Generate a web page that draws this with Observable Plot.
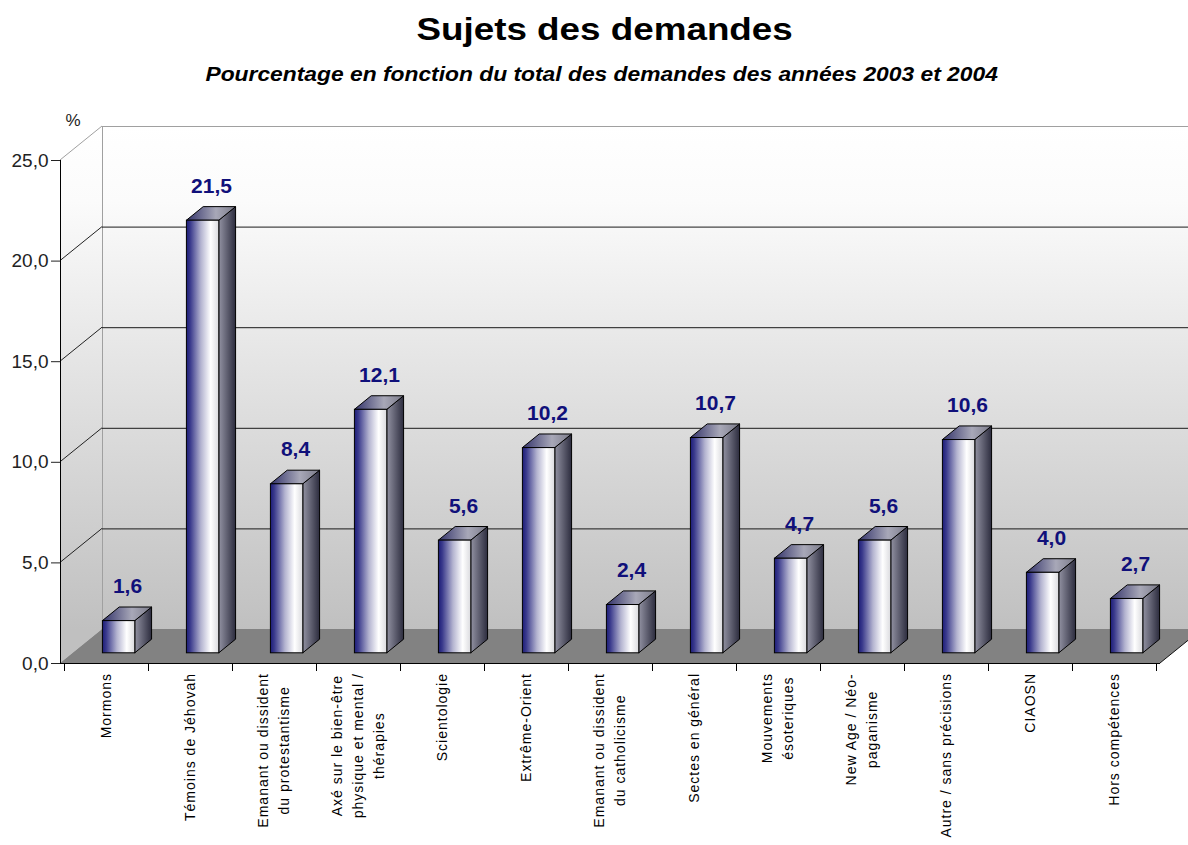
<!DOCTYPE html>
<html>
<head>
<meta charset="utf-8">
<script src="https://cdn.jsdelivr.net/npm/d3@7"></script>
<script src="https://cdn.jsdelivr.net/npm/@observablehq/plot@0.6"></script>
<style>
  html, body { margin: 0; padding: 0; background: #fff; overflow: hidden; }
  #head { position: relative; width: 1188px; height: 95px; font-family: "Liberation Sans", Arial, sans-serif; color: #000; }
  #t { position: absolute; left: 0; top: 9px; width: 1210px; text-align: center; font-weight: bold; font-size: 32px; line-height: 40px; }
  #t span { display: inline-block; transform: scaleX(1.15); }
  #s { position: absolute; left: 0; top: 62px; width: 1204px; text-align: center; font-weight: bold; font-style: italic; font-size: 19.5px; line-height: 24px; }
  #s span { display: inline-block; transform: scaleX(1.17); }
  #chart svg { display: block; }
</style>
</head>
<body>
<div id="head"><div id="t"><span id="title"></span></div><div id="s"><span id="subtitle"></span></div></div>
<div id="chart"></div>
<script>
// ---------- data ----------
const titleText = "Sujets des demandes";
const subtitleText = "Pourcentage en fonction du total des demandes des années 2003 et 2004";
const yUnit = "%";
const categories = [
  "Mormons",
  "Témoins de Jéhovah",
  "Emanant ou dissident\ndu protestantisme",
  "Axé sur le bien-être\nphysique et mental /\nthérapies",
  "Scientologie",
  "Extrême-Orient",
  "Emanant ou dissident\ndu catholicisme",
  "Sectes en général",
  "Mouvements\nésoteriques",
  "New Age / Néo-\npaganisme",
  "Autre / sans précisions",
  "CIAOSN",
  "Hors compétences"
];
const values = [1.6, 21.5, 8.4, 12.1, 5.6, 10.2, 2.4, 10.7, 4.7, 5.6, 10.6, 4.0, 2.7];
const yTicks = [0, 5, 10, 15, 20, 25];

document.getElementById("title").textContent = titleText;
document.getElementById("subtitle").textContent = subtitleText;

const data = categories.map((c, i) => ({cat: c, value: values[i]}));
const fmt = v => v.toFixed(1).replace(".", ",");

// ---------- layout / style ----------
const W = 1188, H = 750;
const ML = 60, MR = 28, MT = 65, MB = 182;
const DX = 42, DY = -34;          // depth of the 3D floor/walls
const TF = 0.3, TB = 0.7;         // bar front / back depth fractions
const BAR_W = 33;
const BW = (W - ML - MR) / categories.length;
const INS = (BW - BAR_W) / 2;
const FONT = "'Liberation Sans', Arial, sans-serif";
const LAB_FS = 14, LAB_LS = 1.0, LAB_LH = 21, LAB_GAP = 10;

const canvas = document.createElement("canvas");
const ctx = canvas.getContext("2d");
ctx.font = `${LAB_FS}px 'Liberation Sans'`;
const measure = s => ctx.measureText(s).width + s.length * LAB_LS;

const bwOf = x => (x.bandwidth ? x.bandwidth() : BW);
const pts = a => a.map(p => p.join(",")).join(" ");

function defsMark(index, {y}) {
  const g = d3.create("svg:g");
  const defs = g.append("defs");
  const lin = (id, stops, attrs = {}) => {
    const lg = defs.append("linearGradient").attr("id", id);
    for (const k in attrs) lg.attr(k, attrs[k]);
    stops.forEach(([o, c]) => lg.append("stop").attr("offset", o).attr("stop-color", c));
  };
  lin("wallGrad", [[0, "#ffffff"], [0.15, "#fbfbfb"], [1, "#c0c0c0"]],
      {gradientUnits: "userSpaceOnUse", x1: 0, x2: 0, y1: y(25) + DY, y2: y(0) + DY});
  lin("frontGrad", [[0, "#1c1c78"], [0.12, "#3a3a8c"], [0.45, "#b4b4d0"], [0.75, "#ffffff"], [1, "#dadade"]]);
  lin("sideGrad", [[0, "#9292a2"], [1, "#2c2c3e"]]);
  lin("topGrad", [[0, "#32326a"], [0.6, "#a8a8b8"], [1, "#7a7a88"]]);
  return g.node();
}

function wallsMark(index, {y}, values, dims) {
  const xl = dims.marginLeft, xr = dims.width - dims.marginRight;
  const y0 = y(0), yt = y(25);
  const g = d3.create("svg:g");
  g.append("rect").attr("x", xl + DX).attr("y", yt + DY).attr("width", xr - xl).attr("height", y0 - yt).attr("fill", "url(#wallGrad)");
  g.append("polygon").attr("points", pts([[xl, yt], [xl + DX, yt + DY], [xl + DX, y0 + DY], [xl, y0]])).attr("fill", "url(#wallGrad)");
  g.append("line").attr("x1", xl + DX + 0.5).attr("x2", xl + DX + 0.5).attr("y1", yt + DY).attr("y2", y0 + DY).attr("stroke", "#a0a0a0");
  return g.node();
}

function sideGridMark(index, {y}, values, dims) {
  const xl = dims.marginLeft;
  const g = d3.create("svg:g").attr("fill", "none");
  yTicks.filter(v => v > 0).forEach(v => {
    g.append("line").attr("x1", xl).attr("y1", y(v)).attr("x2", xl + DX).attr("y2", y(v) + DY)
      .attr("stroke", v === 25 ? "#a0a0a0" : "#222");
  });
  return g.node();
}

function floorMark(index, {x, y}, values, dims) {
  const xl = dims.marginLeft, xr = dims.width - dims.marginRight;
  const y0 = y(0);
  const g = d3.create("svg:g");
  g.append("polygon").attr("points", pts([[xl, y0], [xr, y0], [xr + DX, y0 + DY], [xl + DX, y0 + DY]])).attr("fill", "#828282");
  g.append("line").attr("x1", xr).attr("y1", y0).attr("x2", xr + DX).attr("y2", y0 + DY).attr("stroke", "#111");
  return g.node();
}

function barSidesMark(index, {x, y}) {
  const g = d3.create("svg:g").attr("stroke", "#000").attr("stroke-width", 1).attr("stroke-linejoin", "round");
  const bw = bwOf(x);
  const bx = (TB - TF) * DX, by = (TB - TF) * DY;
  data.forEach(d => {
    const x0 = x(d.cat) + INS + TF * DX, x1 = x(d.cat) + bw - INS + TF * DX;
    const yt = y(d.value) + TF * DY, yb = y(0) + TF * DY;
    g.append("polygon").attr("fill", "url(#sideGrad)")
      .attr("points", pts([[x1, yt], [x1 + bx, yt + by], [x1 + bx, yb + by], [x1, yb]]));
    g.append("polygon").attr("fill", "url(#topGrad)")
      .attr("points", pts([[x0, yt], [x0 + bx, yt + by], [x1 + bx, yt + by], [x1, yt]]));
  });
  return g.node();
}

function axisLinesMark(index, {x, y}, values, dims) {
  const xl = dims.marginLeft, xr = dims.width - dims.marginRight;
  const y0 = y(0);
  const g = d3.create("svg:g").attr("stroke", "#000").attr("fill", "none");
  g.append("line").attr("x1", xl + 0.5).attr("x2", xl + 0.5).attr("y1", y(25)).attr("y2", y0);
  g.append("line").attr("x1", xl).attr("x2", xr).attr("y1", y0 + 0.5).attr("y2", y0 + 0.5);
  const bw = bwOf(x);
  categories.forEach((c, i) => {
    const xb = Math.round(x(c)) + 0.5;
    g.append("line").attr("x1", xb).attr("x2", xb).attr("y1", y0).attr("y2", y0 + 8);
  });
  const xe = Math.round(x(categories[categories.length - 1]) + bw) + 0.5;
  g.append("line").attr("x1", xe).attr("x2", xe).attr("y1", y0).attr("y2", y0 + 8);
  return g.node();
}

function xLabelsMark(index, {x, y}) {
  const g = d3.create("svg:g").attr("font-family", FONT).attr("font-size", LAB_FS)
    .attr("letter-spacing", LAB_LS).attr("fill", "#000");
  const bw = bwOf(x);
  categories.forEach(c => {
    const lines = c.split("\n");
    const len = d3.max(lines, measure);
    const cx = x(c) + bw / 2;
    const cy = y(0) + LAB_GAP + len / 2;
    const t = g.append("text").attr("transform", `translate(${cx},${cy}) rotate(-90)`).attr("text-anchor", "middle");
    lines.forEach((ln, j) => t.append("tspan").attr("x", 0).attr("y", (j - (lines.length - 1) / 2) * LAB_LH).attr("dy", "0.35em").text(ln));
  });
  return g.node();
}

const chart = Plot.plot({
  width: W, height: H,
  marginLeft: ML, marginRight: MR, marginTop: MT, marginBottom: MB,
  style: {fontFamily: FONT, fontSize: "13px", background: "transparent", color: "#000", overflow: "visible"},
  x: {domain: categories, padding: 0, axis: null},
  y: {domain: [0, 25]},
  marks: [
    defsMark,
    wallsMark,
    Plot.ruleY(yTicks.filter(v => v > 0 && v < 25), {dx: DX, dy: DY, stroke: "#1a1a1a", strokeWidth: 1}),
    Plot.ruleY([25], {dx: DX, dy: DY, stroke: "#a0a0a0", strokeWidth: 1}),
    sideGridMark,
    floorMark,
    barSidesMark,
    Plot.barY(data, {x: "cat", y: "value", fill: "url(#frontGrad)", stroke: "#000", strokeWidth: 1,
      insetLeft: INS, insetRight: INS, dx: TF * DX, dy: TF * DY}),
    Plot.text(data, {x: "cat", y: "value", text: d => fmt(d.value), dx: 21, dy: -45,
      fill: "#10107a", fontSize: 21, fontWeight: "bold", fontFamily: FONT}),
    Plot.axisY(yTicks, {tickFormat: fmt, tickSize: 9, tickPadding: 3, fontSize: 19, color: "#222", label: null}),
    axisLinesMark,
    xLabelsMark,
    Plot.text([yUnit], {frameAnchor: "top-left", dx: 12.5, dy: -46.5, fontSize: 17, fill: "#222", textAnchor: "middle"})
  ]
});
document.getElementById("chart").appendChild(chart);
</script>
</body>
</html>
